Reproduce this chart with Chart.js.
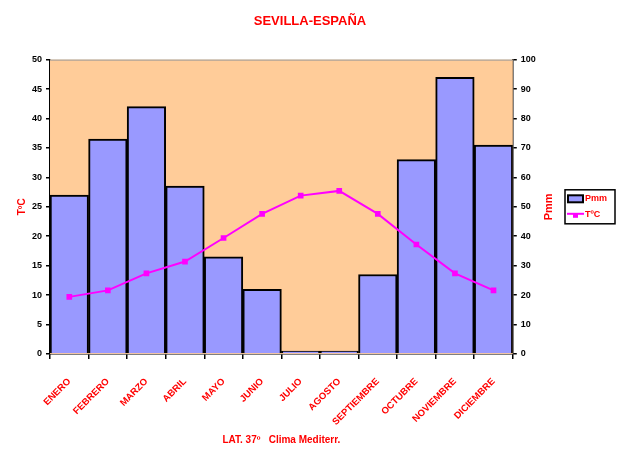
<!DOCTYPE html>
<html>
<head>
<meta charset="utf-8">
<script src="https://cdn.jsdelivr.net/npm/chart.js@4.4.0/dist/chart.umd.min.js"></script>
<style>
html,body{margin:0;padding:0;background:#fff;}
#wrap{width:620px;height:450px;position:relative;}
</style>
</head>
<body>
<div id="wrap"><canvas id="c"></canvas></div>
<script>
const months = ['ENERO','FEBRERO','MARZO','ABRIL','MAYO','JUNIO','JULIO','AGOSTO','SEPTIEMBRE','OCTUBRE','NOVIEMBRE','DICIEMBRE'];
const precipitation = [54, 73, 84, 57, 33, 22, 1, 1, 27, 66, 94, 71];
const temperature = [9.7, 10.8, 13.7, 15.7, 19.7, 23.8, 26.9, 27.7, 23.8, 18.6, 13.7, 10.8];
const tempTicks = [0,5,10,15,20,25,30,35,40,45,50];
const precipTicks = [0,10,20,30,40,50,60,70,80,90,100];
const titleText = 'SEVILLA-ESPAÑA';
const subtitleText = 'LAT. 37º   Clima Mediterr.';
const seriesNames = ['Pmm', 'TºC'];
const leftAxisTitle = 'TºC';
const rightAxisTitle = 'Pmm';

const RED = '#FF0000';
const FONT = 'Liberation Sans';
const BAR_FILL = '#9999FF';
const LINE_COL = '#FF00FF';

const RIGHT_TITLE_FONT = 11;
const RIGHT_TITLE_OUTER = 64;
const RIGHT_TITLE_INNER = 3;

const bgPlugin = {
  id:'plotBg',
  beforeDatasetsDraw(chart){
    const {ctx, chartArea:a} = chart;
    ctx.save();
    ctx.fillStyle = '#FFCC99';
    ctx.fillRect(a.left, a.top, a.right-a.left, a.bottom-a.top);
    ctx.strokeStyle = '#999';
    ctx.lineWidth = 1;
    ctx.beginPath(); ctx.moveTo(a.left, a.top+0.5); ctx.lineTo(a.right, a.top+0.5); ctx.stroke();
    ctx.restore();
  },
  afterDraw(chart){
    const ctx = chart.ctx;
    const a = chart.chartArea;
    // right axis title reading bottom-to-top
    const s = chart.scales.yP;
    const lh = RIGHT_TITLE_FONT*1.2;
    const tx = s.right - RIGHT_TITLE_OUTER - lh/2;
    const ty = (s.top + s.bottom)/2;
    ctx.save();
    ctx.translate(tx, ty);
    ctx.rotate(-Math.PI/2);
    ctx.fillStyle = RED;
    ctx.font = 'bold ' + RIGHT_TITLE_FONT + 'px "' + FONT + '"';
    ctx.textAlign = 'center';
    ctx.textBaseline = 'middle';
    ctx.fillText(rightAxisTitle, 0, 0);
    ctx.restore();

    // legend (drawn from the dataset labels)
    const ds = chart.data.datasets;
    const bx = 565, bw = 50, bh = 34;
    const by = (a.top + a.bottom)/2 - bh/2;
    ctx.save();
    ctx.fillStyle = '#fff';
    ctx.fillRect(bx, by, bw, bh);
    ctx.strokeStyle = '#000'; ctx.lineWidth = 1.5;
    ctx.strokeRect(bx, by, bw, bh);
    ctx.font = 'bold 9px "' + FONT + '"';
    ctx.textBaseline = 'middle';
    ctx.textAlign = 'left';
    ds.forEach((d,i)=>{
      const cy = by + 9 + i*16;
      if(d.type === 'bar'){
        ctx.fillStyle = d.backgroundColor;
        ctx.fillRect(bx+3, cy-3.5, 15, 7);
        ctx.strokeStyle = '#000'; ctx.lineWidth = 2;
        ctx.strokeRect(bx+3, cy-3.5, 15, 7);
      } else {
        ctx.strokeStyle = d.borderColor; ctx.lineWidth = 2;
        ctx.beginPath(); ctx.moveTo(bx+2, cy-1); ctx.lineTo(bx+19, cy-1); ctx.stroke();
        ctx.fillStyle = d.borderColor;
        ctx.fillRect(bx+8, cy-1, 5, 4);
      }
      ctx.fillStyle = RED;
      ctx.fillText(d.label, bx+20, cy);
    });
    ctx.restore();
  }
};

new Chart(document.getElementById('c'), {
  type:'bar',
  data:{
    labels: months,
    datasets:[
      {
        label: seriesNames[0], type:'bar', data: precipitation, yAxisID:'yP',
        backgroundColor:BAR_FILL, borderColor:'#000', borderWidth:2,
        barPercentage:1, categoryPercentage:1, order:2
      },
      {
        label: seriesNames[1], type:'line', data: temperature, yAxisID:'yT',
        borderColor:LINE_COL, backgroundColor:LINE_COL, borderWidth:2,
        pointStyle:'rect', pointRadius:4, pointBackgroundColor:LINE_COL, pointBorderColor:LINE_COL, pointBorderWidth:0,
        tension:0, order:1
      }
    ]
  },
  options:{
    responsive:true, maintainAspectRatio:false, animation:false,
    layout:{padding:{left:0, right:0, top:0, bottom:0}},
    plugins:{
      title:{display:true, text:titleText, color:RED, font:{family:FONT, size:13, weight:'bold'}, padding:{top:14, bottom:30}},
      legend:{display:false},
      tooltip:{enabled:false}
    },
    scales:{
      x:{
        offset:true,
        afterFit(s){ s.height = 96; },
        grid:{display:true, offset:true, drawOnChartArea:false, drawTicks:true, tickLength:5, color:'#000', lineWidth:1.5},
        border:{display:true, color:'#000', width:1.5},
        ticks:{color:RED, font:{family:FONT, size:9.5, weight:'bold'}, minRotation:45, maxRotation:45, padding:17, autoSkip:false},
        title:{display:true, text:subtitleText, color:RED, font:{family:FONT, size:10, weight:'bold'}, padding:{top:8, bottom:4}}
      },
      yT:{
        position:'left', min:0, max:50,
        afterBuildTicks(s){ s.ticks = tempTicks.map(v=>({value:v})); },
        grid:{display:true, drawOnChartArea:false, tickLength:4, color:'#000', lineWidth:1.5},
        border:{display:true, color:'#000', width:1.5},
        ticks:{color:'#000', font:{family:FONT, size:9, weight:'bold'}, padding:4},
        title:{display:true, text:leftAxisTitle, color:RED, font:{family:FONT, size:10, weight:'bold'}, padding:{top:16,bottom:0}}
      },
      yP:{
        position:'right', min:0, max:100,
        afterBuildTicks(s){ s.ticks = precipTicks.map(v=>({value:v})); },
        grid:{display:true, drawOnChartArea:false, tickLength:4, color:'#000', lineWidth:1.5},
        border:{display:true, color:'#000', width:1.5},
        ticks:{color:'#000', font:{family:FONT, size:9, weight:'bold'}, padding:4},
        title:{display:true, text:rightAxisTitle, color:'rgba(0,0,0,0)', font:{family:FONT, size:RIGHT_TITLE_FONT, weight:'bold'}, padding:{top:RIGHT_TITLE_OUTER, bottom:RIGHT_TITLE_INNER}}
      }
    }
  },
  plugins:[bgPlugin]
});
</script>
</body>
</html>
